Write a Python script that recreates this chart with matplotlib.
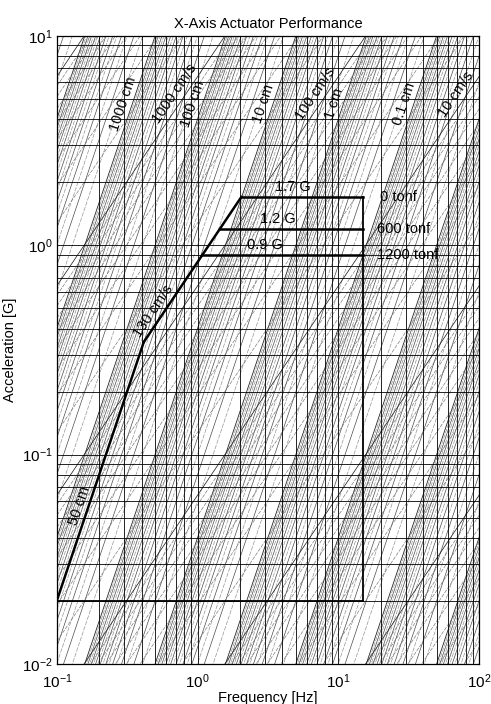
import numpy as np
import matplotlib.pyplot as plt

plt.rcParams['font.family'] = ['Liberation Sans', 'DejaVu Sans']
plt.rcParams['mathtext.fontset'] = 'custom'
plt.rcParams['mathtext.rm'] = 'Liberation Sans'
plt.rcParams['mathtext.it'] = 'Liberation Sans:italic'

G = 980.665  # cm/s^2

# performance envelope
stroke_cm = 50.0
velocity_cms = 130.0
accel_levels = [1.7, 1.2, 0.9]
accel_texts = ["1.7 G", "1.2 G", "0.9 G"]
payloads = ["0 tonf", "600 tonf", "1200 tonf"]
f_min, f_max = 0.1, 15.0
a_floor = 0.02

# labelled reference lines of the tripartite grid
disp_labels = [1000, 100, 10, 1, 0.1]        # cm
vel_labels = [1000, 100, 10]                 # cm/s
label_texts_d = ["1000 cm", "100 cm", "10 cm", "1 cm", "0.1 cm"]
label_texts_v = ["1000 cm/s", "100 cm/s", "10 cm/s"]


def acc_from_disp(f, d):
    return (2 * np.pi * f) ** 2 * d / G


def acc_from_vel(f, v):
    return 2 * np.pi * f * v / G


fig = plt.figure(figsize=(4.91, 7.04), dpi=100)
ax = fig.add_axes([0.116, 0.057, 0.86, 0.892])
ax.set_xscale('log')
ax.set_yscale('log')
ax.set_xlim(0.1, 100)
ax.set_ylim(0.01, 10)

ff = np.logspace(-1, 2, 400)

# constant displacement / velocity lines, 1..9 per decade
for n in range(-6, 6):
    for k in range(1, 10):
        d = k * 10.0 ** n
        ax.plot(ff, acc_from_disp(ff, d), color='0.15' if k == 1 else '0.3',
                lw=0.6 if k == 1 else 0.5, zorder=1)
        # half steps, drawn lighter
        ax.plot(ff, acc_from_disp(ff, (k + 0.5) * 10.0 ** n), color='0.55',
                lw=0.45, ls=(0, (7, 2)), zorder=1)
for n in range(-3, 5):
    for k in range(1, 10):
        v = k * 10.0 ** n
        ax.plot(ff, acc_from_vel(ff, v), color='0.15' if k == 1 else '0.45',
                lw=0.55 if k == 1 else 0.45, ls='-' if k == 1 else (0, (6, 2)), zorder=1)

ax.grid(True, which='both', color='black', lw=0.6, zorder=2)
ax.set_axisbelow(False)
ax.tick_params(which='both', length=0)
ax.tick_params(axis='x', pad=6, labelsize=11)
ax.tick_params(axis='y', pad=3, labelsize=11)
for s in ax.spines.values():
    s.set_linewidth(0.9)

# envelope
f_knee = velocity_cms / (2 * np.pi * stroke_cm)
f1 = np.logspace(np.log10(f_min), np.log10(f_knee), 50)
ax.plot(f1, acc_from_disp(f1, stroke_cm), color='black', lw=1.8, zorder=4)
f_top = accel_levels[0] * G / (2 * np.pi * velocity_cms)
f2 = np.logspace(np.log10(f_knee), np.log10(f_top), 50)
ax.plot(f2, acc_from_vel(f2, velocity_cms), color='black', lw=1.8, zorder=4)
for a in accel_levels:
    fa = a * G / (2 * np.pi * velocity_cms)
    ax.plot([fa, f_max], [a, a], color='black', lw=1.8, zorder=4)
ax.plot([f_max, f_max], [accel_levels[0], a_floor], color='black', lw=1.3, zorder=4)
ax.plot([f_min, f_max], [a_floor, a_floor], color='black', lw=1.3, zorder=4)

# text labels
fsize = 10.5
for a, name, fx in zip(accel_levels, accel_texts, [4.75, 3.7, 3.0]):
    ax.text(fx, a * 1.03, name, ha='center', va='bottom', fontsize=fsize, zorder=5)
for a, name, fx in zip(accel_levels, payloads, [19.8, 18.8, 18.8]):
    ax.text(fx, a, name, ha='left', va='center', fontsize=fsize, zorder=5)

pos = ax.get_position()
ppd_x = fig.get_figwidth() * fig.dpi * pos.width / 3
ppd_y = fig.get_figheight() * fig.dpi * pos.height / 3
ang_d = np.degrees(np.arctan(2 * ppd_y / ppd_x))
ang_v = np.degrees(np.arctan(ppd_y / ppd_x))


def line_label(f, a, text, ang, off=1.5, size=fsize):
    th = np.radians(ang)
    ax.annotate(text, (f, a), xytext=(-off * np.sin(th), off * np.cos(th)),
                textcoords='offset points', rotation=ang, rotation_mode='anchor',
                ha='center', va='bottom', fontsize=size, zorder=5)


for d, t in zip(disp_labels, label_texts_d):
    a = 4.6
    f = np.sqrt(a * G / d) / (2 * np.pi)
    line_label(f, a, t, ang_d)
for v, t in zip(vel_labels, label_texts_v):
    a = 5.0
    f = a * G / (2 * np.pi * v)
    line_label(f, a, t, ang_v)

line_label(0.55, acc_from_vel(0.55, velocity_cms), "130 cm/s", ang_v)
fd = 0.166
line_label(fd, acc_from_disp(fd, stroke_cm), "50 cm", ang_d)

ax.set_title("X-Axis Actuator Performance", fontsize=10.5, pad=6)
ax.set_xlabel("Frequency [Hz]", fontsize=10.5, labelpad=0)
ax.set_ylabel("Acceleration [G]", fontsize=10.5, labelpad=4)

fig.savefig("out.png", dpi=100)
